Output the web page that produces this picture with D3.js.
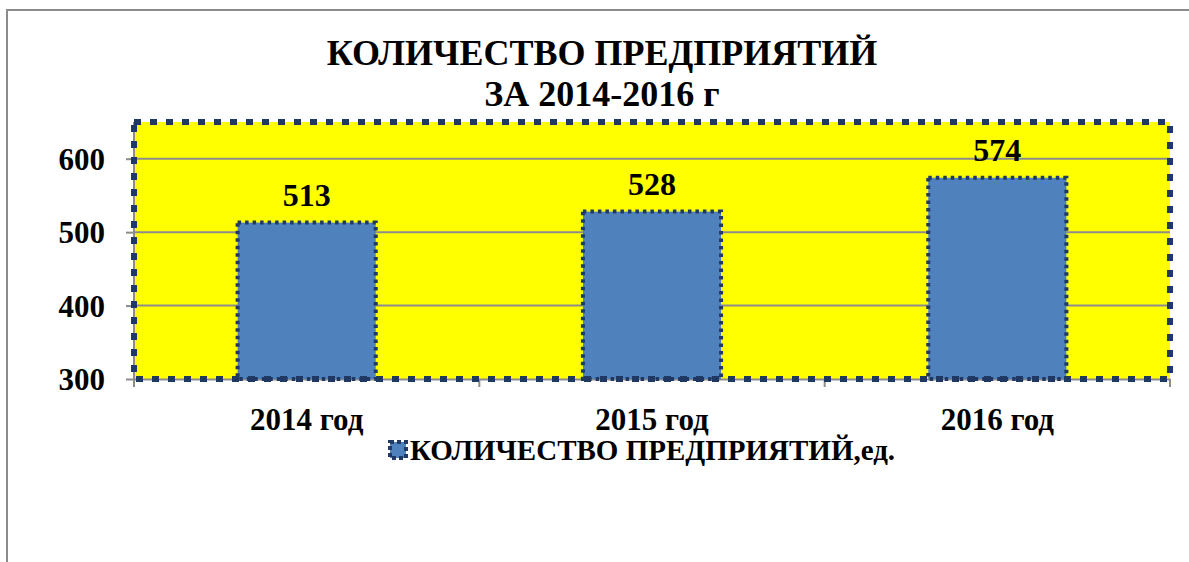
<!DOCTYPE html>
<html lang="ru">
<head>
  <meta charset="UTF-8">
  <script src="https://d3js.org/d3.v7.min.js"></script>
  <style>
    body { margin: 0; background: #fff; }
    svg text { font-weight: bold; fill: #000; }
  </style>
</head>
<body>
  <div id="chart"></div>
  <script>
    const categories = ["2014 год", "2015 год", "2016 год"];
    const values = [513, 528, 574];
    const yTicks = [300, 400, 500, 600];
    const titleLines = ["КОЛИЧЕСТВО ПРЕДПРИЯТИЙ", "ЗА 2014-2016 г"];
    const seriesName = "КОЛИЧЕСТВО ПРЕДПРИЯТИЙ,ед.";

    const FONT = "'Liberation Serif', 'DejaVu Serif', serif";
    const width = 1189, height = 562;
    const margin = { left: 134, right: 19, top: 122, bottom: 183 };

    const svg = d3.select("#chart").append("svg")
      .attr("width", width)
      .attr("height", height);

    // outer chart frame
    svg.append("rect")
      .attr("x", 7).attr("y", 10)
      .attr("width", 1300).attr("height", 700)
      .attr("fill", "#fff")
      .attr("stroke", "#8c8c8c")
      .attr("stroke-width", 2);

    const x = d3.scaleBand()
      .domain(categories)
      .range([margin.left, width - margin.right])
      .paddingInner(0.6)
      .paddingOuter(0.3);

    const y = d3.scaleLinear()
      .domain([300, 650])
      .range([height - margin.bottom, margin.top]);

    // plot area background
    svg.append("rect")
      .attr("x", margin.left).attr("y", margin.top)
      .attr("width", width - margin.left - margin.right)
      .attr("height", y(300) - margin.top)
      .attr("fill", "#ffff00");

    // gridlines
    svg.selectAll(".grid")
      .data(yTicks.slice(1))
      .enter().append("line")
      .attr("x1", margin.left).attr("x2", width - margin.right)
      .attr("y1", d => y(d)).attr("y2", d => y(d))
      .attr("stroke", "#8c8c8c")
      .attr("stroke-width", 2);

    // axes
    const yAxis = svg.append("g")
      .attr("transform", `translate(${margin.left},0)`)
      .call(d3.axisLeft(y).tickValues(yTicks).tickSize(8).tickPadding(21));
    const xAxis = svg.append("g")
      .attr("transform", `translate(0,${y(300)})`)
      .call(d3.axisBottom(x).tickSize(0).tickPadding(29));
    // category boundary ticks
    svg.selectAll(".xtick")
      .data(d3.range(categories.length + 1))
      .enter().append("line")
      .attr("x1", i => margin.left + i * (width - margin.left - margin.right) / categories.length)
      .attr("x2", i => margin.left + i * (width - margin.left - margin.right) / categories.length)
      .attr("y1", y(300)).attr("y2", y(300) + 8)
      .attr("stroke", "#8c8c8c").attr("stroke-width", 2);

    [yAxis, xAxis].forEach(a => {
      a.attr("font-family", null);
      a.selectAll("path, line").attr("stroke", "#8c8c8c").attr("stroke-width", 2);
      a.selectAll("text").style("font-size", "31px").attr("fill", "#000");
    });
    yAxis.selectAll("text").attr("dy", "0.34em");
    yAxis.select(".domain").attr("d", `M0,${y(300)}V${margin.top}`);

    // bars
    svg.selectAll(".bar")
      .data(values)
      .enter().append("rect")
      .attr("x", (d, i) => x(categories[i]))
      .attr("y", d => y(d))
      .attr("width", x.bandwidth())
      .attr("height", d => y(300) - y(d))
      .attr("fill", "#4f81bd")
      .attr("stroke", "#1f3864")
      .attr("stroke-width", 4)
      .attr("stroke-dasharray", "3.5 4");

    // plot area dotted frame
    svg.append("rect")
      .attr("x", margin.left).attr("y", margin.top)
      .attr("width", width - margin.left - margin.right)
      .attr("height", y(300) - margin.top)
      .attr("fill", "none")
      .attr("stroke", "#1f3864")
      .attr("stroke-width", 6)
      .attr("stroke-dasharray", "7 9");

    // value labels
    svg.selectAll(".val")
      .data(values)
      .enter().append("text")
      .attr("x", (d, i) => x(categories[i]) + x.bandwidth() / 2)
      .attr("y", d => y(d) - 17)
      .attr("text-anchor", "middle")
      .style("font-size", "32px")
      .text(d => d);

    // title
    svg.selectAll(".title")
      .data(titleLines)
      .enter().append("text")
      .attr("x", 602)
      .attr("y", (d, i) => 65 + i * 41)
      .attr("text-anchor", "middle")
      .style("font-size", "36px")
      .text(d => d);

    // legend
    const lg = svg.append("g").attr("transform", "translate(390,442)");
    lg.append("rect")
      .attr("width", 16).attr("height", 16)
      .attr("fill", "#4f81bd")
      .attr("stroke", "#1f3864")
      .attr("stroke-width", 4)
      .attr("stroke-dasharray", "4 3");
    lg.append("text")
      .attr("x", 20).attr("y", 18)
      .style("font-size", "29px")
      .text(seriesName);

    svg.selectAll("text").style("font-family", FONT);
  </script>
</body>
</html>
